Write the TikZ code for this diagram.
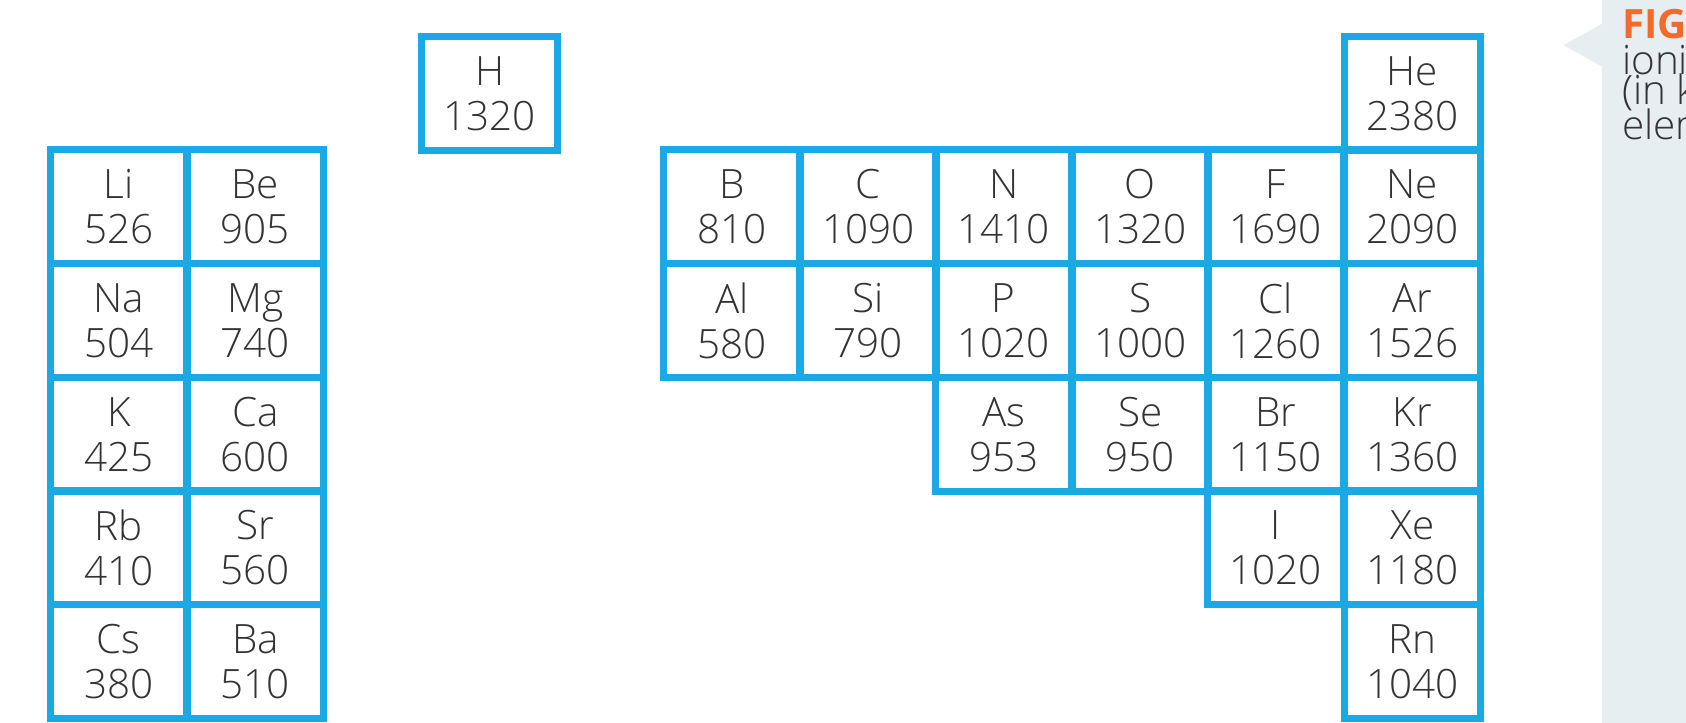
\documentclass[tikz,border=0pt]{standalone}
\usepackage{fontspec}
\IfFontExistsTF{Open Sans Light}{\setmainfont{Open Sans Light}[BoldFont=Open Sans Bold]}{\setmainfont{Open Sans}}
\definecolor{cellblue}{HTML}{1BA9E6}
\definecolor{panel}{HTML}{E7EEF1}
\definecolor{figorange}{HTML}{F26B2A}
\definecolor{txt}{HTML}{333333}
\newlength{\pxu}\setlength{\pxu}{0.01075cm}
\tikzset{cell/.style={draw=cellblue,line width=2pt,minimum width=126.5\pxu,minimum height=105.6\pxu,inner sep=0pt,anchor=north west,align=center,font=\fontsize{11.5}{12.8}\selectfont,text=txt},
captext/.style={anchor=west,inner sep=0pt,font=\fontsize{11.5}{12.8}\selectfont,text=txt}}
\begin{document}
\begin{tikzpicture}[x=0.01075cm,y=-0.01075cm]
\useasboundingbox (0,0) rectangle (1568,672);
\begin{scope}
\clip (0,0) rectangle (1568,672);
\fill[panel] (1490,0) rectangle (1568,672);
\fill[panel] (1490,22) -- (1454,42) -- (1490,62) -- cycle;
\node[captext,font=\fontsize{11.5}{12.8}\bfseries,text=figorange] (f0) at (1508,22) {FIGURE};
\node[captext] (f1) at (1508,56) {ionisation};
\node[captext] (f2) at (1508,86) {(in kJ};
\node[captext] (f3) at (1508,116) {elements};
\end{scope}
\foreach \n/\v/\x/\y in {H/1320/389/31,
 Li/526/44/136, Be/905/171/136, Na/504/44/242, Mg/740/171/242,
 K/425/44/348, Ca/600/171/348, Rb/410/44/453, Sr/560/171/453,
 Cs/380/44/559, Ba/510/171/559,
 He/2380/1247/31,
 B/810/614/136, C/1090/741/136, N/1410/867/136, O/1320/994/136, F/1690/1120/136, Ne/2090/1247/136,
 Al/580/614/242, Si/790/741/242, P/1020/867/242, S/1000/994/242, Cl/1260/1120/242, Ar/1526/1247/242,
 As/953/867/348, Se/950/994/348, Br/1150/1120/348, Kr/1360/1247/348,
 I/1020/1120/453, Xe/1180/1247/453, Rn/1040/1247/559}
 \node[cell] (c\n) at (\x,\y) {\n\\\v};
\end{tikzpicture}
\end{document}
